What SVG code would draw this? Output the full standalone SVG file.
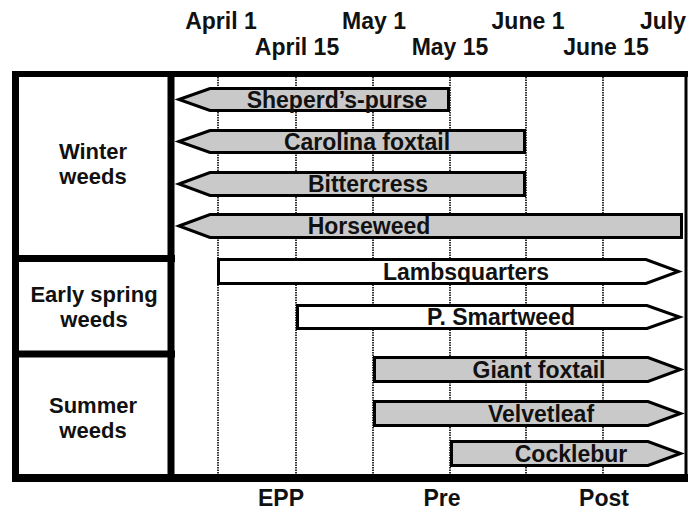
<svg xmlns="http://www.w3.org/2000/svg" width="691" height="510" viewBox="0 0 691 510">
<style>
text{font-family:"Liberation Sans",Arial,sans-serif;font-weight:bold;font-size:23px;fill:#111;text-anchor:middle}
.lbl{font-size:22px}
.grid{stroke:#333;stroke-width:2;stroke-dasharray:1.5 1;fill:none}
.frame{stroke:#000;fill:none}
.bar{stroke:#000;stroke-width:3;stroke-linejoin:miter}
.gray{fill:#c9c9c9}
.white{fill:#fff}
</style>
<rect width="691" height="510" fill="#fff"/>
<g id="dates">
<text x="221" y="29">April 1</text>
<text x="374" y="29">May 1</text>
<text x="528" y="29">June 1</text>
<text x="686" y="29" style="text-anchor:end">July</text>
<text x="297" y="55">April 15</text>
<text x="450" y="55">May 15</text>
<text x="606" y="55">June 15</text>
</g>
<g id="gridlines">
<line class="grid" x1="218" y1="77" x2="218" y2="474"/>
<line class="grid" x1="296" y1="77" x2="296" y2="474"/>
<line class="grid" x1="373" y1="77" x2="373" y2="474"/>
<line class="grid" x1="450" y1="77" x2="450" y2="474"/>
<line class="grid" x1="526" y1="77" x2="526" y2="474"/>
<line class="grid" x1="603" y1="77" x2="603" y2="474"/>
</g>
<g id="frame">
<line class="frame" x1="12" y1="74" x2="688" y2="74" stroke-width="6"/>
<line class="frame" x1="12" y1="478" x2="688" y2="478" stroke-width="8"/>
<line class="frame" x1="15.5" y1="71" x2="15.5" y2="482" stroke-width="7"/>
<line class="frame" x1="171" y1="71" x2="171" y2="482" stroke-width="7"/>
<line class="frame" x1="686" y1="71" x2="686" y2="482" stroke-width="3"/>
<line class="frame" x1="12" y1="258.5" x2="175" y2="258.5" stroke-width="7"/>
<line class="frame" x1="12" y1="354" x2="175" y2="354" stroke-width="7"/>
</g>
<g id="group-winter">
<text class="lbl" x="93" y="159">Winter</text>
<text class="lbl" x="93" y="184">weeds</text>
</g>
<g id="group-early">
<text class="lbl" x="94" y="302">Early spring</text>
<text class="lbl" x="94" y="327">weeds</text>
</g>
<g id="group-summer">
<text class="lbl" x="93" y="413">Summer</text>
<text class="lbl" x="93" y="438">weeds</text>
</g>
<g id="connectors">
<g id="sheperds-purse">
<polygon class="bar gray" points="179,99.5 210,88.5 448.5,88.5 448.5,110.5 210,110.5"/>
<text x="337" y="108">Sheperd’s-purse</text>
</g>
<g id="carolina-foxtail">
<polygon class="bar gray" points="179,141.5 210,130.5 524.5,130.5 524.5,152.5 210,152.5"/>
<text x="367" y="150">Carolina foxtail</text>
</g>
<g id="bittercress">
<polygon class="bar gray" points="179,184 210,172.5 524.5,172.5 524.5,195.5 210,195.5"/>
<text x="368" y="192">Bittercress</text>
</g>
<g id="horseweed">
<polygon class="bar gray" points="179,226 210,214.5 681.5,214.5 681.5,237.5 210,237.5"/>
<text x="369" y="234">Horseweed</text>
</g>
<g id="lambsquarters">
<polygon class="bar white" points="218.5,259.5 646,259.5 678.5,271.5 646,283.5 218.5,283.5"/>
<text x="466" y="280">Lambsquarters</text>
</g>
<g id="p-smartweed">
<polygon class="bar white" points="297.5,305.5 647,305.5 679.5,317 647,328.5 297.5,328.5"/>
<text x="501" y="325">P. Smartweed</text>
</g>
<g id="giant-foxtail">
<polygon class="bar gray" points="374.5,357.5 648,357.5 680.5,369.5 648,381.5 374.5,381.5"/>
<text x="539" y="378">Giant foxtail</text>
</g>
<g id="velvetleaf">
<polygon class="bar gray" points="374.5,401.5 648,401.5 680.5,413.5 648,425.5 374.5,425.5"/>
<text x="541" y="422">Velvetleaf</text>
</g>
<g id="cocklebur">
<polygon class="bar gray" points="451.5,441.5 648,441.5 680.5,453.5 648,465.5 451.5,465.5"/>
<text x="571" y="462">Cocklebur</text>
</g>
</g>
<g id="timing">
<text x="281" y="506">EPP</text>
<text x="442" y="506">Pre</text>
<text x="604" y="506">Post</text>
</g>
</svg>
